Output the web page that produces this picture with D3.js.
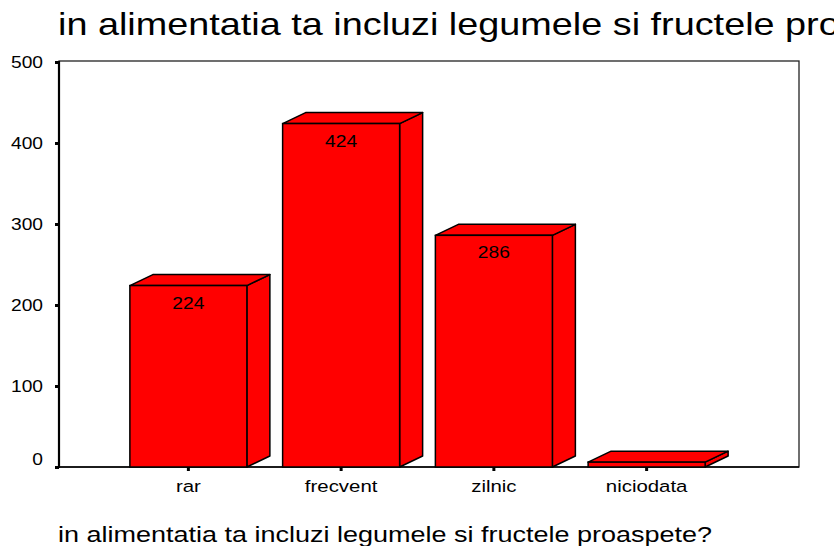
<!DOCTYPE html>
<html>
<head>
<meta charset="utf-8">
<script src="https://cdn.jsdelivr.net/npm/d3@7"></script>
<style>
  body { margin: 0; background: #fff; }
  svg { display: block; font-family: "Liberation Sans", Arial, sans-serif; }
</style>
</head>
<body>
<div id="chart"></div>
<script>
// date
const categories = ["rar", "frecvent", "zilnic", "niciodata"];
const counts = [224, 424, 286, 6];
const yTicks = [0, 100, 200, 300, 400, 500];
const titleText = "in alimentatia ta incluzi legumele si fructele proaspete?";
const axisTitle = "in alimentatia ta incluzi legumele si fructele proaspete?";

const width = 834;
const height = 546;
const sx = 1.2; // textul din original e usor latit
const depthX = 23;
const depthY = 11;

const svg = d3
  .select("#chart")
  .append("svg")
  .attr("width", width)
  .attr("height", height);

const plot = { left: 59, right: 799, top: 61, bottom: 467 };

const y = d3.scaleLinear().domain([0, 500]).range([plot.bottom, 62]);

const x = d3
  .scaleBand()
  .domain(categories)
  .range([112, 723])
  .paddingInner(0.234)
  .paddingOuter(0.117);

// text latit orizontal
function stretchedText(parent, tx, ty, str, size, anchor, scaleX) {
  const g = parent.append("g").attr("transform", `translate(${tx},${ty})`);
  g.append("text")
    .attr("transform", `scale(${scaleX || sx},1)`)
    .attr("text-anchor", anchor || "start")
    .attr("font-size", size)
    .attr("fill", "#000")
    .text(str);
  return g;
}

// titlu (taiat la marginea din dreapta, ca in original)
stretchedText(svg, 58, 35, titleText, 30.5, "start", 1.24);

// chenar
svg
  .append("rect")
  .attr("x", plot.left)
  .attr("y", plot.top)
  .attr("width", plot.right - plot.left)
  .attr("height", plot.bottom - plot.top)
  .attr("fill", "none")
  .attr("stroke", "#222")
  .attr("stroke-width", 1.3);

// axa Y
const yAxis = svg
  .append("g")
  .attr("transform", `translate(${plot.left},0)`)
  .call(d3.axisLeft(y).tickValues(yTicks).tickSize(4).tickFormat(""));
yAxis.select(".domain").remove();
yAxis.selectAll(".tick line").attr("stroke", "#000").attr("stroke-width", 3);

yTicks.forEach((t) => {
  const off = t === 0 ? -8 : 0;
  stretchedText(svg, 43, y(t) + 6 + off, String(t), 16, "end");
});

svg
  .append("line")
  .attr("x1", plot.left)
  .attr("x2", plot.left)
  .attr("y1", plot.top)
  .attr("y2", plot.bottom + 1)
  .attr("stroke", "#000")
  .attr("stroke-width", 2.2);

// axa X
const xAxis = svg
  .append("g")
  .attr("transform", `translate(0,${plot.bottom})`)
  .call(d3.axisBottom(x).tickSize(4).tickFormat(""));
xAxis.select(".domain").remove();
xAxis.selectAll(".tick line").attr("stroke", "#000").attr("stroke-width", 3);

svg
  .append("line")
  .attr("x1", plot.left)
  .attr("x2", plot.right)
  .attr("y1", plot.bottom)
  .attr("y2", plot.bottom)
  .attr("stroke", "#000")
  .attr("stroke-width", 1.3);

// bare 3D
const bars = svg
  .append("g")
  .selectAll("g")
  .data(categories.map((c, i) => ({ cat: c, value: counts[i] })))
  .join("g");

bars.each(function (d) {
  const g = d3.select(this);
  const x0 = x(d.cat);
  const x1 = x0 + x.bandwidth();
  const y0 = y(d.value);
  const y1 = y(0);

  // fata laterala
  g.append("path")
    .attr(
      "d",
      `M${x1},${y1} L${x1 + depthX},${y1 - depthY} L${x1 + depthX},${y0 - depthY} L${x1},${y0} Z`
    )
    .attr("fill", "#ff0000")
    .attr("stroke", "#000")
    .attr("stroke-width", 1.5)
    .attr("stroke-linejoin", "round");

  // fata de sus
  g.append("path")
    .attr(
      "d",
      `M${x0},${y0} L${x0 + depthX},${y0 - depthY} L${x1 + depthX},${y0 - depthY} L${x1},${y0} Z`
    )
    .attr("fill", "#ff0000")
    .attr("stroke", "#000")
    .attr("stroke-width", 1.5)
    .attr("stroke-linejoin", "round");

  // fata din fata
  g.append("rect")
    .attr("x", x0)
    .attr("y", y0)
    .attr("width", x1 - x0)
    .attr("height", y1 - y0)
    .attr("fill", "#ff0000")
    .attr("stroke", "#000")
    .attr("stroke-width", 1.5);

  if (d.value >= 20) {
    stretchedText(g, (x0 + x1) / 2, y0 + 23, String(d.value), 16, "middle");
  }
});

// etichete categorii
categories.forEach((c) => {
  stretchedText(svg, x(c) + x.bandwidth() / 2, 492, c, 17, "middle");
});

// titlu axa
stretchedText(svg, 58, 542, axisTitle, 22.5);
</script>
</body>
</html>
